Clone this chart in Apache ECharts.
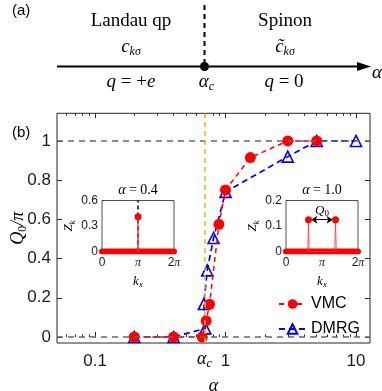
<!DOCTYPE html>
<html><head><meta charset="utf-8">
<script src="https://cdn.jsdelivr.net/npm/echarts@6/dist/echarts.min.js"></script>
<style>html,body{margin:0;padding:0;background:#fff}#c{width:382px;height:391px}</style>
</head><body><div id="c"></div>
<script>
// ---- data ----
const alphaC = 0.69;
const vmcAlpha = [0.2, 0.4, 0.663, 0.711, 0.754, 0.89, 1.0, 1.55, 3.0, 5.0];
const vmcQ     = [0, 0, 0, 0.082, 0.167, 0.575, 0.75, 0.915, 1.0, 1.0];
const dmrgAlpha = [0.2, 0.4, 0.70, 0.682, 0.724, 0.81, 1.0, 3.0, 5.0, 10.0];
const dmrgQ     = [0, 0, 0.044, 0.168, 0.34, 0.505, 0.74, 0.92, 1.0, 1.0];
const refLevels = [0, 1];
const yTicks = [0, 0.2, 0.4, 0.6, 0.8, 1];
const xMajorTicks = [0.1, 1, 10];
const xMajorLabels = ['0.1', '1', '10'];
const xMinorTicks = [0.06, 0.07, 0.08, 0.09, 0.2, 0.3, 0.4, 0.5, 0.6, 0.7, 0.8, 0.9, 2, 3, 4, 5, 6, 7, 8, 9];
// insets
const kTicks = [0, Math.PI, 2 * Math.PI];
const kTickLabels = ['0', 'π', '2π'];
const baseK = [0, 2 * Math.PI];
const baseZ = [0, 0];
const a04K = [3.08, Math.PI, 3.20];
const a04Z = [0, 0.41, 0];
const a04Ticks = [0, 0.3, 0.6];
const a10K = [1.90, 1.963, 2.03, 4.25, 4.320, 4.39];
const a10Z = [0, 0.125, 0, 0, 0.125, 0];
const a10Ticks = [0, 0.1, 0.2];
const q0Arrow = [1.963, 4.320, 0.125];

const SANS = 'Liberation Sans';
const SERIF = 'Liberation Serif';
const AX = '#262626';
const zip = (a, b) => a.map((v, i) => [v, b[i]]);

const chart = echarts.init(document.getElementById('c'), null, {renderer: 'canvas'});

const mainRich = {
  i: {fontFamily: SERIF, fontStyle: 'italic', fontSize: 18, color: '#000'},
  s: {fontFamily: SERIF, fontStyle: 'italic', fontSize: 12, color: '#000', padding: [10, 0, 0, 0]},
  u: {fontFamily: SERIF, fontSize: 12, color: '#000', padding: [10, 0, 0, 0]}
};
const insetRich = {
  i: {fontFamily: SERIF, fontStyle: 'italic', fontSize: 13, color: '#000'},
  s: {fontFamily: SERIF, fontStyle: 'italic', fontSize: 9, color: '#000', padding: [7, 0, 0, 0]},
  u: {fontFamily: SERIF, fontSize: 9, color: '#000', padding: [7, 0, 0, 0]}
};

function logAxis(pos, ticks, len, showLabel, name) {
  return {
    type: 'log', gridIndex: 0, position: pos, min: 0.0511, max: 12.8,
    axisLine: {show: false},
    axisTick: {show: true, inside: true, length: len, customValues: ticks, lineStyle: {color: AX, width: 1}},
    axisLabel: showLabel ? {show: true, customValues: ticks, margin: 10, fontFamily: SANS, fontSize: 17, color: '#1a1a1a',
      formatter: v => { const i = xMajorTicks.findIndex(t => Math.abs(t - v) / t < 1e-6); return i >= 0 ? xMajorLabels[i] : ''; }} : {show: false},
    splitLine: {show: false},
    name: name || '', nameLocation: 'middle', nameGap: 34,
    nameTextStyle: {fontFamily: SERIF, fontStyle: 'italic', fontSize: 18, color: '#000'}
  };
}
function kAxis(gi) {
  return {
    type: 'value', gridIndex: gi, min: 0, max: 2 * Math.PI,
    axisLine: {show: false},
    axisTick: {show: true, inside: true, length: 2, customValues: kTicks, lineStyle: {color: AX}},
    axisLabel: {customValues: kTicks, margin: 5, fontFamily: SANS, fontSize: 12, color: '#1a1a1a',
      formatter: v => { const i = kTicks.findIndex(t => Math.abs(t - v) < 1e-6); return i >= 0 ? (i === 0 ? kTickLabels[0] : '{n|' + kTickLabels[i].replace('π', '') + '}{p|π}') : ''; },
      rich: {n: {fontFamily: SANS, fontSize: 12, color: '#1a1a1a'}, p: {fontFamily: SERIF, fontStyle: 'italic', fontSize: 12, color: '#1a1a1a'}}},
    splitLine: {show: false},
    name: '{i|k}{s|x}', nameLocation: 'middle', nameGap: 22,
    nameTextStyle: {fontFamily: SERIF, fontSize: 13, rich: insetRich}
  };
}
function zAxis(gi, ticks) {
  return {
    type: 'value', gridIndex: gi, min: ticks[0], max: ticks[2],
    axisLine: {show: false},
    axisTick: {show: true, inside: true, length: 2, customValues: ticks, lineStyle: {color: AX}},
    axisLabel: {customValues: ticks, margin: 4, fontFamily: SANS, fontSize: 12, color: '#1a1a1a'},
    splitLine: {show: false},
    name: '{i|Z}{s|k}', nameLocation: 'middle', nameGap: 25, nameRotate: 90,
    nameTextStyle: {fontFamily: SERIF, fontSize: 13, rich: insetRich}
  };
}

const option = {
  animation: false,
  backgroundColor: '#fff',
  grid: [
    {left: 57, top: 113.3, width: 313, height: 229.7, show: true, borderColor: AX, borderWidth: 1, backgroundColor: 'transparent', outerBoundsMode: 'none', containLabel: false},
    {left: 102, top: 200.5, width: 72, height: 51, show: true, borderColor: AX, borderWidth: 0.8, backgroundColor: '#fff', z: 5, outerBoundsMode: 'none', containLabel: false},
    {left: 286, top: 200.5, width: 72, height: 51, show: true, borderColor: AX, borderWidth: 0.8, backgroundColor: '#fff', z: 5, outerBoundsMode: 'none', containLabel: false}
  ],
  xAxis: [
    logAxis('bottom', xMajorTicks, 5, true, 'α'),
    logAxis('bottom', xMinorTicks, 2.5, false),
    logAxis('top', xMajorTicks, 5, false),
    logAxis('top', xMinorTicks, 2.5, false),
    kAxis(1),
    kAxis(2)
  ],
  yAxis: [
    {type: 'value', gridIndex: 0, position: 'left', min: -0.0306, max: 1.141,
      axisLine: {show: false},
      axisTick: {show: true, inside: true, length: 5, customValues: yTicks, lineStyle: {color: AX}},
      axisLabel: {customValues: yTicks, margin: 6, fontFamily: SANS, fontSize: 17, color: '#1a1a1a'},
      splitLine: {show: false},
      name: '{i|Q}{u|0}{i|/π}', nameLocation: 'middle', nameGap: 28, nameRotate: 90, nameMoveOverlap: false,
      nameTextStyle: {fontFamily: SERIF, fontSize: 18, rich: mainRich}},
    {type: 'value', gridIndex: 0, position: 'right', min: -0.0306, max: 1.141,
      axisLine: {show: false},
      axisTick: {show: true, inside: true, length: 5, customValues: yTicks, lineStyle: {color: AX}},
      axisLabel: {show: false}, splitLine: {show: false}},
    zAxis(1, a04Ticks),
    zAxis(2, a10Ticks)
  ],
  legend: {
    data: ['VMC', 'DMRG'], orient: 'vertical', left: 278, top: 296, padding: 0,
    itemWidth: 27, itemHeight: 12, itemGap: 9,
    textStyle: {fontFamily: SANS, fontSize: 16, color: '#000'}
  },
  series: [
    {type: 'line', name: 'ref', xAxisIndex: 0, yAxisIndex: 0, data: [], z: 1, silent: true,
      markLine: {silent: true, symbol: ['none', 'none'], animation: false,
        data: refLevels.map(v => ({yAxis: v, lineStyle: {color: '#666', width: 1.5, type: [6, 5]}, label: {show: false}}))
          .concat([{xAxis: alphaC, lineStyle: {color: '#EDB120', width: 1.5, type: [5, 4]},
            label: {show: true, position: 'start', distance: 6, formatter: '{i|α}{u|c}', rich: {
              i: {fontFamily: SERIF, fontStyle: 'italic', fontSize: 18, color: '#000'},
              u: {fontFamily: SERIF, fontStyle: 'italic', fontSize: 12, color: '#000', padding: [9, 0, 0, 0]}}}}])}},
    {type: 'line', name: 'DMRG', xAxisIndex: 0, yAxisIndex: 0, z: 2,
      data: zip(dmrgAlpha, dmrgQ),
      symbol: 'triangle', symbolSize: 11,
      itemStyle: {color: 'rgba(255,255,255,0)', borderColor: '#0000FF', borderWidth: 1.6},
      lineStyle: {color: '#0000FF', width: 1.7, type: [6, 4]}},
    {type: 'line', name: 'VMC', xAxisIndex: 0, yAxisIndex: 0, z: 3,
      data: zip(vmcAlpha, vmcQ),
      symbol: 'circle', symbolSize: 11,
      itemStyle: {color: '#FF0000', borderWidth: 0},
      lineStyle: {color: '#FF0000', width: 1.5, type: [5, 4]}},
    // inset 1
    {type: 'line', name: 'base1', xAxisIndex: 4, yAxisIndex: 2, data: zip(baseK, baseZ), symbol: 'none', z: 6,
      lineStyle: {color: '#FF0000', width: 6, cap: 'round'}, silent: true,
      markLine: {silent: true, symbol: ['none', 'none'], label: {show: false},
        data: [{xAxis: kTicks[1]}], lineStyle: {color: '#000', width: 1.5, type: [4, 3]}}},
    {type: 'line', name: 'spike1', xAxisIndex: 4, yAxisIndex: 2, data: zip(a04K, a04Z), z: 7,
      symbol: 'circle', symbolSize: v => v[1] > 0 ? 7 : 0,
      itemStyle: {color: '#FF0000'}, lineStyle: {color: '#FF3030', width: 1, opacity: 0.8}},
    // inset 2
    {type: 'line', name: 'base2', xAxisIndex: 5, yAxisIndex: 3, data: zip(baseK, baseZ), symbol: 'none', z: 6,
      lineStyle: {color: '#FF0000', width: 6, cap: 'round'}, silent: true},
    {type: 'line', name: 'spike2', xAxisIndex: 5, yAxisIndex: 3, data: zip(a10K, a10Z), z: 7,
      symbol: 'circle', symbolSize: v => v[1] > 0 ? 7 : 0,
      itemStyle: {color: '#FF0000'}, lineStyle: {color: '#FF3030', width: 1, opacity: 0.8},
      markLine: {silent: true, symbol: ['arrow', 'arrow'], symbolSize: 6,
        lineStyle: {color: '#000', width: 1, type: 'solid'},
        label: {show: true, position: 'middle', formatter: '{i|Q}{u|0}', distance: 1, rich: insetRich},
        data: [[{coord: [q0Arrow[0] + 0.25, q0Arrow[2]]}, {coord: [q0Arrow[1] - 0.25, q0Arrow[2]]}]]}}
  ]
};
chart.setOption(option);

const xc = chart.convertToPixel({xAxisIndex: 0, yAxisIndex: 0}, [alphaC, 0])[0];
const in1 = chart.convertToPixel({xAxisIndex: 4, yAxisIndex: 2}, [Math.PI, a04Ticks[2]]);
const in2 = chart.convertToPixel({xAxisIndex: 5, yAxisIndex: 3}, [Math.PI, a10Ticks[2]]);
const aRich = {
  i: {fontFamily: SERIF, fontStyle: 'italic', fontSize: 19},
  n: {fontFamily: SERIF, fontSize: 19},
  s: {fontFamily: SERIF, fontStyle: 'italic', fontSize: 12, padding: [10, 0, 0, 0]}
};
const tRich = {
  i: {fontFamily: SERIF, fontStyle: 'italic', fontSize: 14},
  n: {fontFamily: SERIF, fontSize: 14}
};
function txt(x, y, text, rich, font) {
  return {type: 'text', x: x, y: y, z: 100, style: {text: text, rich: rich, align: 'center', verticalAlign: 'middle', fill: '#000', font: font || ('19px "' + SERIF + '"')}};
}
chart.setOption({
  graphic: [
    {type: 'text', x: 12, y: 3, style: {text: '(a)', font: '15px "' + SANS + '"', fill: '#000'}},
    {type: 'text', x: 12, y: 125, style: {text: '(b)', font: '15px "' + SANS + '"', fill: '#000'}},
    txt(131, 21, 'Landau qp'),
    txt(131, 47, '{i|c}{s|kσ}', aRich),
    txt(285, 21, 'Spinon'),
    txt(285, 47, '{i|c\u0303}{s|kσ}', aRich),
    {type: 'line', shape: {x1: 57, y1: 66.5, x2: 362, y2: 66.5}, style: {stroke: '#000', lineWidth: 2}},
    {type: 'polygon', shape: {points: [[357, 62], [371, 66.5], [357, 71]]}, style: {fill: '#000'}},
    {type: 'line', shape: {x1: xc, y1: 5, x2: xc, y2: 64}, style: {stroke: '#000', lineWidth: 2, lineDash: [5, 4]}},
    {type: 'circle', shape: {cx: xc, cy: 66.5, r: 4.5}, style: {fill: '#000'}},
    txt(377, 73, '{i|α}', aRich),
    txt(131, 82, '{i|q}{n| = +}{i|e}', aRich),
    txt(xc + 2, 82, '{i|α}{s|c}', aRich),
    txt(284, 82, '{i|q}{n| = 0}', aRich),
    txt(in1[0], in1[1] - 10, '{i|α}{n| = 0.4}', tRich, '14px "' + SERIF + '"'),
    txt(in2[0], in2[1] - 10, '{i|α}{n| = 1.0}', tRich, '14px "' + SERIF + '"')
  ]
});
</script>
</body></html>
